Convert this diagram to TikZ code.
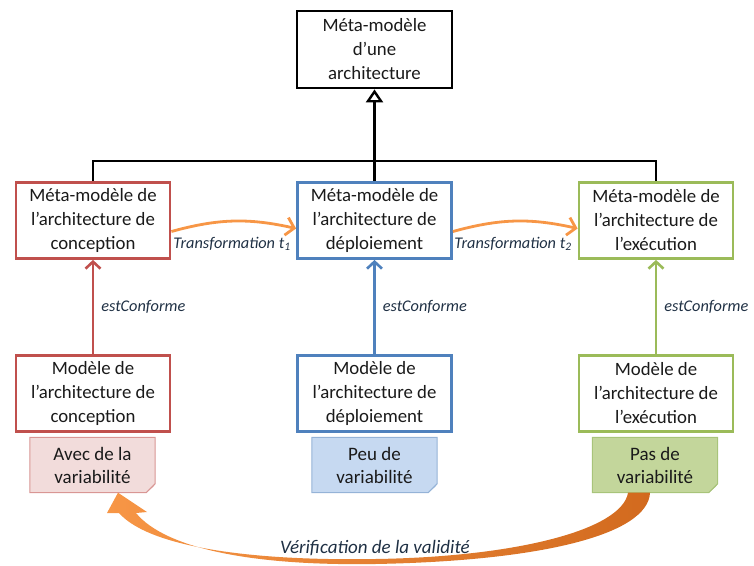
\documentclass[tikz,border=0pt]{standalone}
\usepackage{fontspec}
\setmainfont{Carlito}
\usetikzlibrary{arrows.meta,backgrounds,calc}
\definecolor{rouge}{HTML}{C0504D}
\definecolor{bleu}{HTML}{4F81BD}
\definecolor{vert}{HTML}{9BBB59}
\definecolor{orangeT}{HTML}{F79646}
\definecolor{brun}{HTML}{D26A1E}
\definecolor{texte}{HTML}{1A1A1A}
\definecolor{etiq}{HTML}{1F3044}
\definecolor{noteR}{HTML}{F2DCDB}
\definecolor{noteRb}{HTML}{D99694}
\definecolor{noteB}{HTML}{C6D9F1}
\definecolor{noteBb}{HTML}{95B3D7}
\definecolor{noteV}{HTML}{C3D69B}
\definecolor{noteVb}{HTML}{A8C47A}

\begin{document}
\begin{tikzpicture}[x=1pt,y=-1pt,
   boite/.style={draw,line width=2.8pt,fill=white,minimum width=154pt,minimum height=76pt,
                 align=center,text=texte,inner sep=0pt,font=\fontsize{18.8}{24}\selectfont},
   note/.style={minimum width=125pt,minimum height=55pt,align=center,text=texte,
                inner sep=0pt,font=\fontsize{19}{23}\selectfont},
   lab/.style={text=etiq,inner sep=2pt,font=\fontsize{16.3}{19}\selectfont\itshape},
   conf/.style={line width=2.6pt,-{Straight Barb[length=7pt,width=15pt,line width=2.6pt]}},
   trans/.style={orangeT,line width=2.8pt,-{Straight Barb[length=8pt,width=18pt,line width=2.8pt]}}]
   \useasboundingbox (0,0) rectangle (754,565);
   % meta-modele general
   \node[boite,draw=black,minimum width=155pt,minimum height=77pt] (meta) at (374.5,49.5)
        {Méta-modèle\\d’une\\architecture};
   % meta-modeles
   \node[boite,draw=rouge] (mmc) at (93,220.5) {Méta-modèle de\\l’architecture de\\conception};
   \node[boite,draw=bleu]  (mmd) at (374.5,220.5) {Méta-modèle de\\l’architecture de\\déploiement};
   \node[boite,draw=vert]  (mme) at (656,220.5) {Méta-modèle de\\l’architecture de\\l’exécution};
   % modeles
   \node[boite,draw=rouge] (mc) at (93,393.5) {Modèle de\\l’architecture de\\conception};
   \node[boite,draw=bleu]  (md) at (374.5,393.5) {Modèle de\\l’architecture de\\déploiement};
   \node[boite,draw=vert]  (me) at (656,393.5) {Modèle de\\l’architecture de\\l’exécution};
   % notes
   \node[note] (nc) at (92.5,465) {Avec de la\\variabilité};
   \node[note] (nd) at (374.5,465) {Peu de\\variabilité};
   \node[note] (ne) at (655,465) {Pas de\\variabilité};
   \begin{scope}[on background layer]
   \foreach \n/\f/\d in {nc/noteR/noteRb,nd/noteB/noteBb,ne/noteV/noteVb}{
      \filldraw[draw=\d,fill=\f,line width=1pt] (\n.north west) -- (\n.north east)
         -- ([yshift=9pt]\n.south east) -- ([xshift=-9pt]\n.south east) -- (\n.south west) -- cycle;
      \fill[\d] ([yshift=9pt]\n.south east) -- ([xshift=-9pt]\n.south east)
         -- ([xshift=-2pt,yshift=6pt]\n.south east) -- cycle;
   }
   \end{scope}
   % heritage
   \draw[line width=2.6pt] (mmc.north) -- ++(0,-20) -| (mme.north);
   \draw[line width=2.6pt,-{Triangle[open,length=13pt,width=17pt,line width=2.4pt]}] (mmd.north) -- (meta.south);
   % transformations
   \draw[trans] ([yshift=-11pt]mmc.east) to[bend left=14] ([yshift=-8pt]mmd.west);
   \draw[trans] ([yshift=-11pt]mmd.east) to[bend left=14] ([yshift=-8pt]mme.west);
   \node[lab] (t1) at (232,244) {Transformation t\textsubscript{1}};
   \node[lab] (t2) at (513,244) {Transformation t\textsubscript{2}};
   % conformite
   \draw[conf,rouge] (mc.north) -- node[lab,right=5pt] (ec) {estConforme} (mmc.south);
   \draw[conf,bleu]  (md.north) -- node[lab,right=5pt] (ed) {estConforme} (mmd.south);
   \draw[conf,vert]  (me.north) -- node[lab,right=5pt] (ee) {estConforme} (mme.south);
   % verification
   \shade[left color=orangeT,right color=brun]
      ($(ne.south)+(-5,0)$) .. controls (648,535) and (540,561) .. (375,564)
      .. controls (250,566) and (165,548) .. (136,513) -- (147,512)
      -- ($(nc.south)+(25.5,0)$) -- (107,513) -- (119,513)
      .. controls (150,548) and (255,561) .. (375,559)
      .. controls (515,557) and (622,530) .. ($(ne.south)+(-27,0)$) -- cycle;
   \node[lab,font=\fontsize{19}{22}\selectfont\itshape] (verif) at (375,548) {Vérification de la validité};
\end{tikzpicture}
\end{document}
